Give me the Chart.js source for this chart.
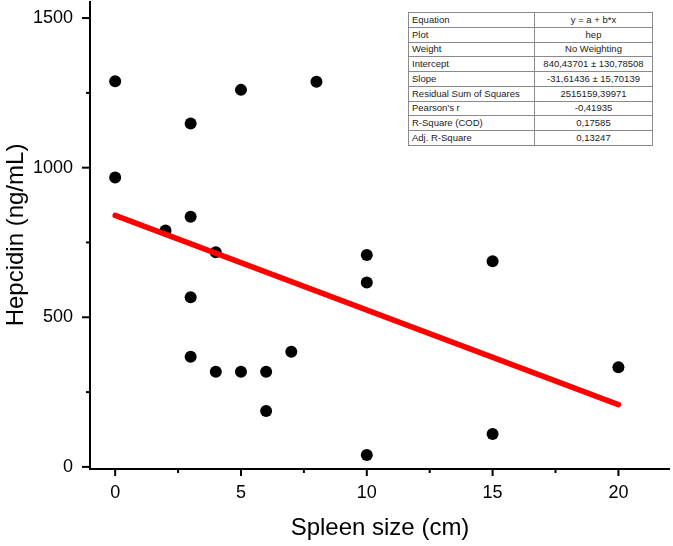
<!DOCTYPE html>
<html><head><meta charset="utf-8">
<script src="https://cdn.jsdelivr.net/npm/chart.js@4"></script>
<style>
html,body{margin:0;padding:0;background:#fff;}
#wrap{position:relative;width:673px;height:546px;}
#stats{position:absolute;left:408px;top:12px;width:244px;border-collapse:collapse;table-layout:fixed;font-family:"Liberation Sans",Arial,sans-serif;font-size:9.5px;color:#222;background:#fff;}
#stats tr{height:14.75px;}
#stats td{border:1px solid #8a8a8a;padding:0 3px;line-height:12px;white-space:nowrap;overflow:hidden;}
#stats td.v{text-align:center;}
</style></head><body>
<div id="wrap"><canvas id="c" width="673" height="546"></canvas>
<table id="stats"><colgroup><col style="width:126px"><col style="width:118px"></colgroup><tbody id="tb"></tbody></table></div>
<script>
// ---- data ----
const spleenSize = [0, 0, 2, 3, 3, 3, 3, 4, 4, 5, 5, 6, 6, 7, 8, 10, 10, 10, 15, 15, 20];
const hepcidin   = [1289, 967, 790, 1148, 836, 567, 368, 717, 318, 1260, 318, 318, 187, 385, 1287, 708, 616, 40, 687, 110, 333];
const fitX = [0, 20];
const fitY = [840.44, 208.15];
const xTicks = [0, 5, 10, 15, 20];
const xMinorTicks = [2.5, 7.5, 12.5, 17.5];
const yTicks = [0, 500, 1000, 1500];
const yMinorTicks = [250, 750, 1250];
const tableLabels = ["Equation", "Plot", "Weight", "Intercept", "Slope", "Residual Sum of Squares", "Pearson's r", "R-Square (COD)", "Adj. R-Square"];
const tableValues = ["y = a + b*x", "hep", "No Weighting", "840,43701 \u00b1 130,78508", "-31,61436 \u00b1 15,70139", "2515159,39971", "-0,41935", "0,17585", "0,13247"];
const xTitle = "Spleen size (cm)";
const yTitle = "Hepcidin (ng/mL)";

// ---- table ----
const tb = document.getElementById('tb');
tableLabels.forEach((l, i) => {
  const tr = document.createElement('tr');
  const a = document.createElement('td'); a.textContent = l;
  const b = document.createElement('td'); b.className = 'v'; b.textContent = tableValues[i];
  tr.appendChild(a); tr.appendChild(b); tb.appendChild(tr);
});

const FONT = '"Liberation Sans", Arial, sans-serif';

const axisPlugin = {
  id: 'axes',
  beforeDatasetsDraw(chart) {
    const {ctx, chartArea: a, scales: {x, y}} = chart;
    ctx.save();
    ctx.strokeStyle = '#000';
    ctx.lineWidth = 2;
    ctx.beginPath();
    ctx.moveTo(a.left, a.top);
    ctx.lineTo(a.left, a.bottom);
    ctx.lineTo(a.right, a.bottom);
    ctx.stroke();
    const seg = (x1, y1, x2, y2) => { ctx.beginPath(); ctx.moveTo(x1, y1); ctx.lineTo(x2, y2); ctx.stroke(); };
    xTicks.forEach(v => { const p = x.getPixelForValue(v); seg(p, a.bottom, p, a.bottom + 7); });
    xMinorTicks.forEach(v => { const p = x.getPixelForValue(v); seg(p, a.bottom, p, a.bottom + 4); });
    yTicks.forEach(v => { const p = y.getPixelForValue(v); seg(a.left - 8, p, a.left, p); });
    yMinorTicks.forEach(v => { const p = y.getPixelForValue(v); seg(a.left - 4, p, a.left, p); });
    ctx.restore();
  }
};

new Chart(document.getElementById('c'), {
  type: 'scatter',
  data: {
    datasets: [
      {
        data: fitX.map((v, i) => ({x: v, y: fitY[i]})),
        showLine: true,
        borderColor: '#ff0000',
        borderWidth: 5.5,
        borderCapStyle: 'round',
        pointRadius: 0,
        fill: false,
        order: 0
      },
      {
        data: spleenSize.map((v, i) => ({x: v, y: hepcidin[i]})),
        backgroundColor: '#000',
        borderColor: '#000',
        pointRadius: 6,
        pointBorderWidth: 0,
        order: 1
      }
    ]
  },
  options: {
    responsive: false,
    animation: false,
    layout: {autoPadding: false, padding: {top: 1, right: 3, left: 0, bottom: 0}},
    plugins: {legend: {display: false}, tooltip: {enabled: false}},
    scales: {
      x: {
        type: 'linear', min: -1, max: 22.05,
        afterBuildTicks: s => { s.ticks = xTicks.map(v => ({value: v})); },
        afterFit: s => { s.height = 77; s.paddingLeft = 0; s.paddingRight = 0; },
        grid: {display: false, drawTicks: false, tickLength: 0},
        border: {display: false},
        ticks: {padding: 13, color: '#000', font: {family: FONT, size: 18}, callback: v => String(v), maxRotation: 0},
        title: {display: true, text: xTitle, color: '#000', font: {family: FONT, size: 24}, padding: {top: 0, bottom: 3}}
      },
      y: {
        type: 'linear', min: -7, max: 1557,
        afterBuildTicks: s => { s.ticks = yTicks.map(v => ({value: v})); },
        afterFit: s => { s.width = 90; s.paddingTop = 0; s.paddingBottom = 0; },
        grid: {display: false, drawTicks: false, tickLength: 0},
        border: {display: false},
        ticks: {padding: 17, color: '#000', font: {family: FONT, size: 18}, callback: v => String(v)},
        title: {display: true, text: yTitle, color: '#000', font: {family: FONT, size: 24}, padding: {top: 2, bottom: 0}}
      }
    }
  },
  plugins: [axisPlugin]
});
</script>
</body></html>
